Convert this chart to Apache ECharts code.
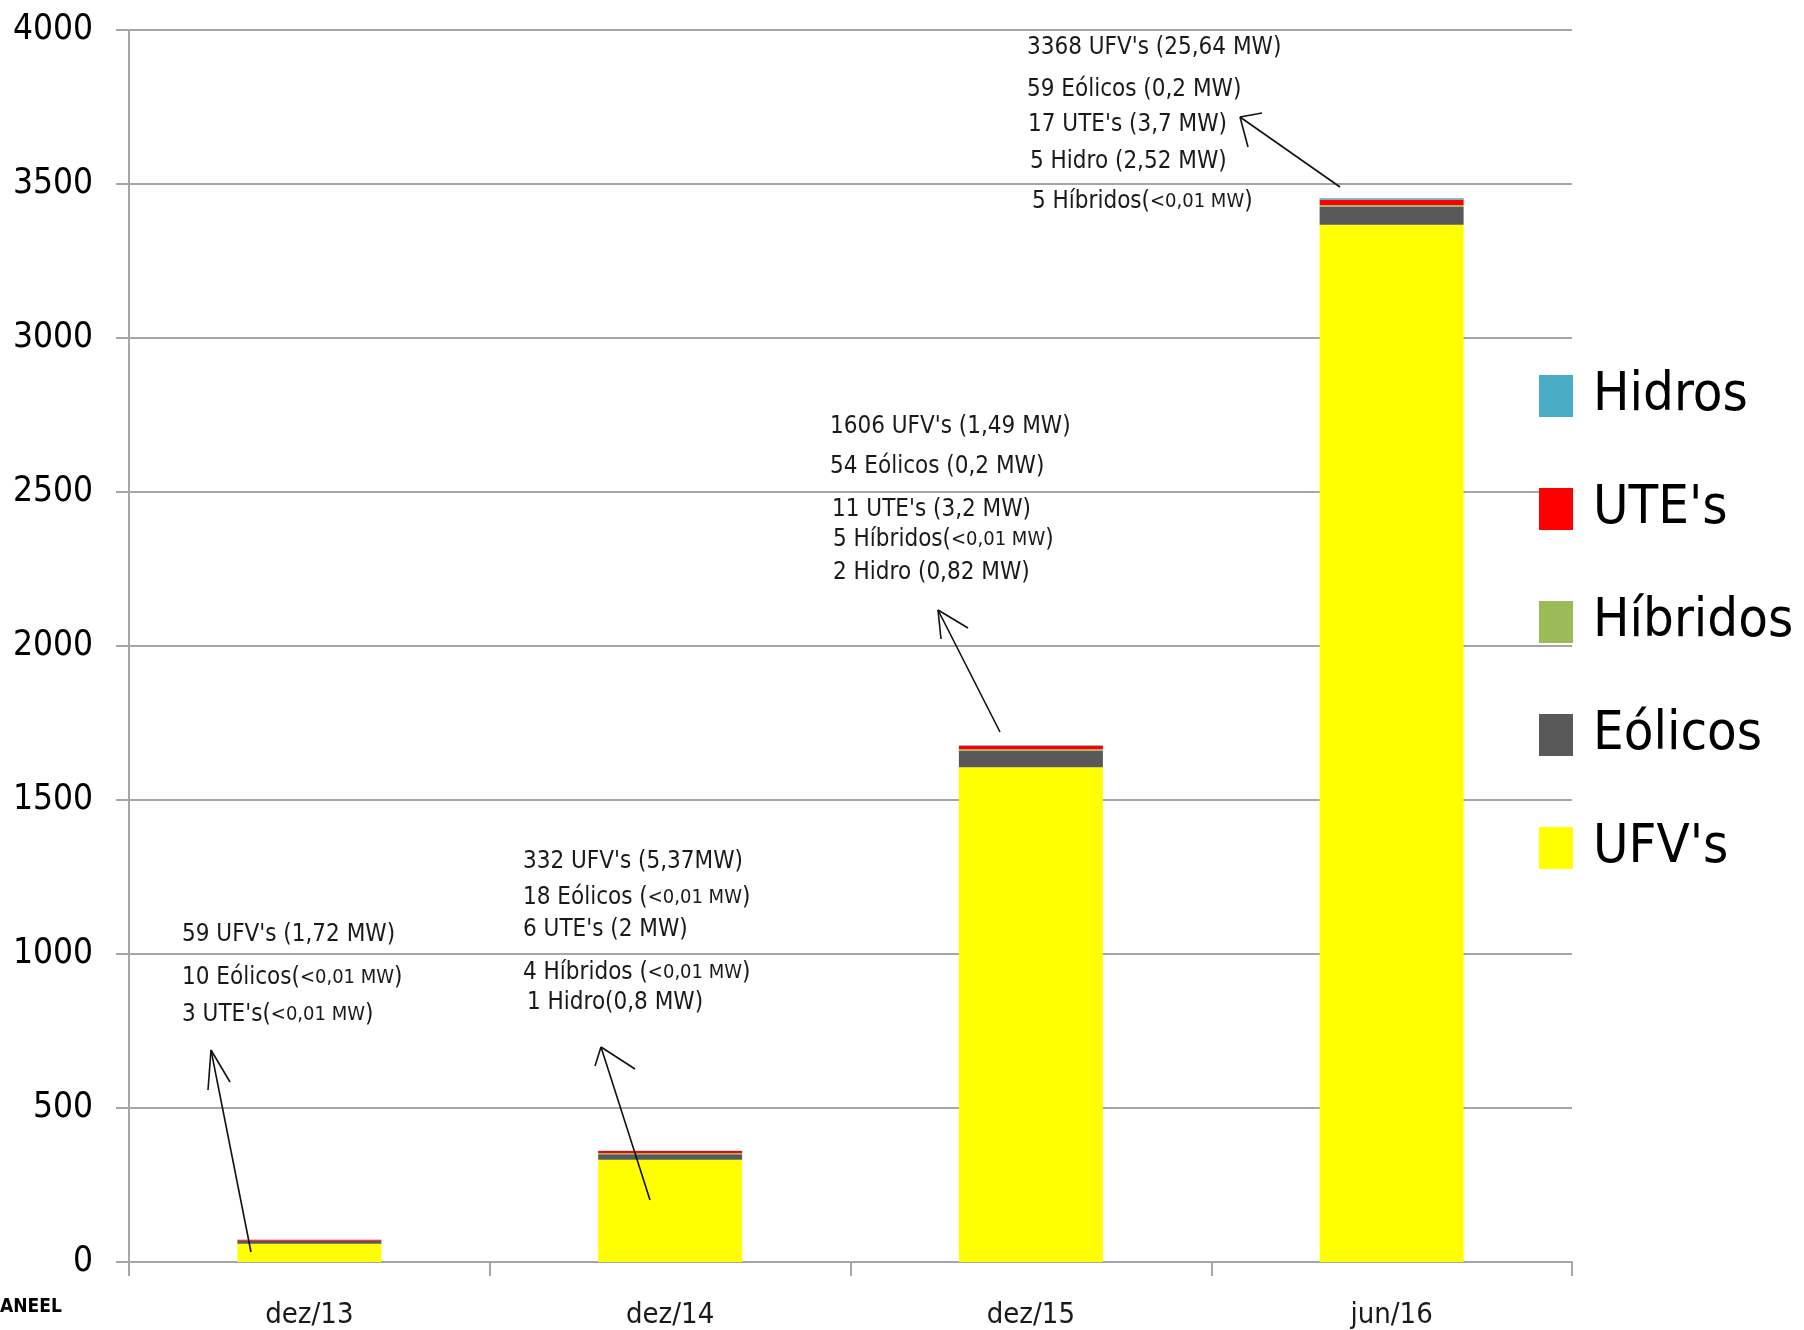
<!DOCTYPE html>
<html>
<head>
<meta charset="utf-8">
<script src="https://cdn.jsdelivr.net/npm/echarts@6/dist/echarts.min.js"></script>
<style>
html,body{margin:0;padding:0;background:#fff;}
#chart{width:1804px;height:1330px;}
</style>
</head>
<body>
<div id="chart"></div>
<script>
// ---- data ----
const categories = ['dez/13', 'dez/14', 'dez/15', 'jun/16'];
const ufvs     = [59, 332, 1606, 3368];
const eolicos  = [10, 18, 54, 59];
const hibridos = [0, 4, 5, 5];
const utes     = [3, 6, 11, 17];
const hidros   = [0, 1, 2, 5];
const yMin = 0, yMax = 4000, yStep = 500;
const legendOrder = ['Hidros', "UTE's", 'Híbridos', 'Eólicos', "UFV's"];

const notes13 = [
  [{t: "59 UFV's (1,72 MW)"}],
  [{t: '10 Eólicos('}, {t: '<0,01 MW', s: 1}, {t: ')'}],
  [{t: "3 UTE's("}, {t: '<0,01 MW', s: 1}, {t: ')'}]
];
const notes14 = [
  [{t: "332 UFV's (5,37MW)"}],
  [{t: '18 Eólicos ('}, {t: '<0,01 MW', s: 1}, {t: ')'}],
  [{t: "6 UTE's (2 MW)"}],
  [{t: '4 Híbridos ('}, {t: '<0,01 MW', s: 1}, {t: ')'}],
  [{t: '1 Hidro(0,8 MW)'}]
];
const notes15 = [
  [{t: "1606 UFV's (1,49 MW)"}],
  [{t: '54 Eólicos (0,2 MW)'}],
  [{t: "11 UTE's (3,2 MW)"}],
  [{t: '5 Híbridos('}, {t: '<0,01 MW', s: 1}, {t: ')'}],
  [{t: '2 Hidro (0,82 MW)'}]
];
const notes16 = [
  [{t: "3368 UFV's (25,64 MW)"}],
  [{t: '59 Eólicos (0,2 MW)'}],
  [{t: "17 UTE's (3,7 MW)"}],
  [{t: '5 Hidro (2,52 MW)'}],
  [{t: '5 Híbridos('}, {t: '<0,01 MW', s: 1}, {t: ')'}]
];

// ---- styling ----
const COND = '"DejaVu Sans Condensed", "Liberation Sans Narrow", sans-serif';
const GRID_GRAY = '#a6a6a6';
const colors = {
  "UFV's": '#ffff00',
  'Eólicos': '#595959',
  'Híbridos': '#9bbb59',
  "UTE's": '#ff0000',
  'Hidros': '#4bacc6'
};

function noteBlock(lines, x, ys, xs) {
  return lines.map((parts, i) => {
    const text = parts.map(p => p.s ? '{s|' + p.t + '}' : '{n|' + p.t + '}').join('');
    return {
      type: 'text',
      x: x + (xs ? xs[i] : 0),
      y: ys[i],
      style: {
        text: text,
        verticalAlign: 'middle',
        align: 'left',
        fill: '#1a1a1a',
        rich: {
          n: {fontFamily: COND, fontSize: 24, fill: '#1a1a1a'},
          s: {fontFamily: COND, fontSize: 20, fill: '#1a1a1a'}
        }
      },
      z: 100
    };
  });
}

function arrow(tail, tip, w1, w2) {
  const ls = {stroke: '#111', lineWidth: 1.6};
  return [
    {type: 'line', shape: {x1: tail[0], y1: tail[1], x2: tip[0], y2: tip[1]}, style: ls, z: 100},
    {type: 'line', shape: {x1: tip[0], y1: tip[1], x2: w1[0], y2: w1[1]}, style: ls, z: 100},
    {type: 'line', shape: {x1: tip[0], y1: tip[1], x2: w2[0], y2: w2[1]}, style: ls, z: 100}
  ];
}

const seriesDefs = [
  ["UFV's", ufvs],
  ['Eólicos', eolicos],
  ['Híbridos', hibridos],
  ["UTE's", utes],
  ['Hidros', hidros]
];

const chart = echarts.init(document.getElementById('chart'), null, {renderer: 'canvas'});

const option = {
  backgroundColor: '#ffffff',
  animation: false,
  grid: {left: 129, right: 232, top: 30, bottom: 68, containLabel: false},
  legend: {
    orient: 'vertical',
    left: 1539,
    top: 364,
    padding: 0,
    itemWidth: 34,
    itemHeight: 42,
    itemGap: 49,
    icon: 'rect',
    data: legendOrder,
    textStyle: {
      fontFamily: COND,
      fontSize: 54,
      lineHeight: 64,
      color: '#000',
      padding: [0, 0, 0, 15]
    }
  },
  xAxis: {
    type: 'category',
    data: categories,
    boundaryGap: true,
    axisLine: {show: true, lineStyle: {color: GRID_GRAY, width: 2}},
    axisTick: {show: true, length: 14, alignWithLabel: false, lineStyle: {color: GRID_GRAY, width: 2}},
    axisLabel: {margin: 39, fontFamily: COND, fontSize: 29, color: '#1a1a1a'},
    splitLine: {show: false}
  },
  yAxis: {
    type: 'value',
    min: yMin,
    max: yMax,
    interval: yStep,
    axisLine: {show: true, lineStyle: {color: GRID_GRAY, width: 2}},
    axisTick: {show: true, length: 13, lineStyle: {color: GRID_GRAY, width: 2}},
    axisLabel: {margin: 36, fontFamily: COND, fontSize: 35, color: '#000', formatter: v => String(v)},
    splitLine: {show: true, lineStyle: {color: GRID_GRAY, width: 2}}
  },
  series: seriesDefs.map(([name, vals]) => ({
    name: name,
    type: 'bar',
    stack: 'total',
    barWidth: 144,
    data: vals,
    itemStyle: {color: colors[name]},
    emphasis: {disabled: true}
  })),
  graphic: [].concat(
    noteBlock(notes13, 182, [935, 978, 1015]),
    noteBlock(notes14, 523, [862, 898, 930, 973, 1003], [0, 0, 0, 0, 4]),
    noteBlock(notes15, 830, [427, 467, 510, 540, 573], [0, 0, 2, 3, 3]),
    noteBlock(notes16, 1027, [48, 90, 125, 162, 202], [0, 0, 1, 3, 5]),
    arrow([251, 1252], [211, 1050], [230, 1082], [208, 1090]),
    arrow([650, 1200], [601, 1047], [635, 1069], [595, 1066]),
    arrow([1000, 732], [938, 610], [968, 628], [941, 639]),
    arrow([1340, 187], [1240, 117], [1262, 113], [1248, 147]),
    [{
      type: 'text', x: 0, y: 1307,
      style: {text: 'ANEEL', font: 'bold 19px "DejaVu Sans Condensed", sans-serif', fill: '#000', verticalAlign: 'middle'},
      z: 100
    }]
  )
};

chart.setOption(option);
</script>
</body>
</html>
